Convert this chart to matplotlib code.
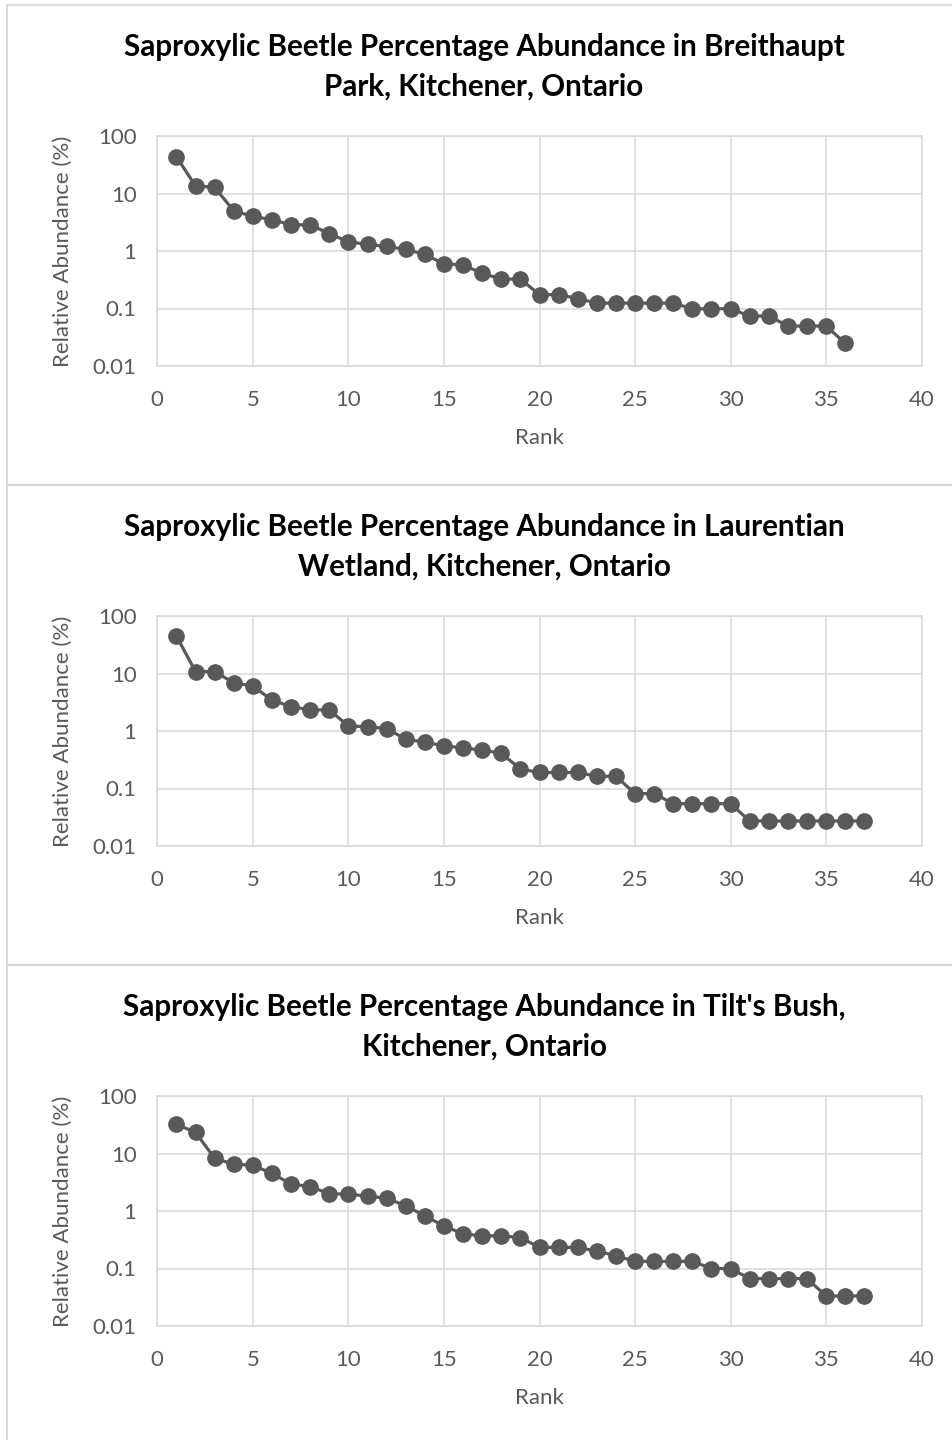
import matplotlib
matplotlib.use("Agg")
import matplotlib.pyplot as plt
from matplotlib.patches import Rectangle
from matplotlib.ticker import FixedLocator, FixedFormatter

plt.rcParams['font.family'] = ['Lato', 'DejaVu Sans']

# relative abundance (%) of each species, in rank order
breithaupt = [43.7, 13.5, 12.8, 5.0, 4.0, 3.5, 2.85, 2.85, 2.0, 1.45, 1.3, 1.2,
              1.07, 0.87, 0.6, 0.57, 0.41, 0.325, 0.325, 0.174, 0.174, 0.149,
              0.124, 0.124, 0.124, 0.124, 0.124, 0.099, 0.099, 0.099, 0.074,
              0.074, 0.0496, 0.0496, 0.0496, 0.0248]
laurentian = [44.9, 10.8, 10.8, 6.9, 6.05, 3.45, 2.65, 2.33, 2.33, 1.22, 1.19,
              1.1, 0.72, 0.64, 0.55, 0.51, 0.465, 0.41, 0.218, 0.19, 0.19, 0.19,
              0.163, 0.163, 0.0816, 0.0816, 0.0544, 0.0544, 0.0544, 0.0544,
              0.0272, 0.0272, 0.0272, 0.0272, 0.0272, 0.0272, 0.0272]
tilts = [32.2, 23.3, 8.25, 6.5, 6.25, 4.5, 2.95, 2.65, 2.0, 1.96, 1.82, 1.66,
         1.24, 0.82, 0.55, 0.4, 0.37, 0.37, 0.345, 0.233, 0.233, 0.233, 0.2,
         0.167, 0.133, 0.133, 0.133, 0.133, 0.1, 0.1, 0.0667, 0.0667, 0.0667,
         0.0667, 0.0333, 0.0333, 0.0333]

titles = [
    "Saproxylic Beetle Percentage Abundance in Breithaupt\nPark, Kitchener, Ontario",
    "Saproxylic Beetle Percentage Abundance in Laurentian\nWetland, Kitchener, Ontario",
    "Saproxylic Beetle Percentage Abundance in Tilt's Bush,\nKitchener, Ontario",
]
series = [breithaupt, laurentian, tilts]

x_ticks = [0, 5, 10, 15, 20, 25, 30, 35, 40]
y_ticks = [0.01, 0.1, 1, 10, 100]
y_tick_labels = ["0.01", "0.1", "1", "10", "100"]

W, H = 952, 1440
fig = plt.figure(figsize=(W / 100, H / 100), dpi=100)

grid_col = "#d9d9d9"
text_col = "#595959"
line_col = "#595959"

for i, (vals, title) in enumerate(zip(series, titles)):
    off = 480 * i

    # chart frame
    fig.patches.append(Rectangle((7 / W, 1 - (485 + off) / H), 960 / W, 480 / H,
                                 transform=fig.transFigure, fill=False,
                                 edgecolor=grid_col, linewidth=1.5))

    fig.text(484 / W, 1 - (67 + off) / H, title, ha="center", va="center",
             fontsize=21.3, fontweight="bold", color="black", linespacing=1.5)

    ax = fig.add_axes([157.3 / W, 1 - (366 + off) / H, (921.7 - 157.3) / W, 230 / H])
    ranks = list(range(1, len(vals) + 1))
    ax.plot(ranks, vals, color=line_col, linewidth=2.3, marker="o",
            markersize=11, markerfacecolor=line_col, markeredgecolor=line_col,
            zorder=3)
    ax.set_yscale("log")
    ax.set_xlim(0, 40)
    ax.set_ylim(0.01, 100)
    ax.xaxis.set_major_locator(FixedLocator(x_ticks))
    ax.yaxis.set_major_locator(FixedLocator(y_ticks))
    ax.yaxis.set_major_formatter(FixedFormatter(y_tick_labels))
    ax.yaxis.set_minor_locator(FixedLocator([]))
    ax.grid(True, color=grid_col, linewidth=1.1)
    ax.set_axisbelow(True)
    for s in ax.spines.values():
        s.set_color(grid_col)
        s.set_linewidth(1.1)
    ax.tick_params(length=0, labelsize=16, labelcolor=text_col)
    ax.tick_params(axis="x", pad=17)
    ax.tick_params(axis="y", pad=15)
    ax.set_xlabel("Rank", fontsize=16, color=text_col, labelpad=13)
    ax.set_ylabel("Relative Abundance (%)", fontsize=16, color=text_col, labelpad=14)

fig.savefig("out.png", dpi=100)
